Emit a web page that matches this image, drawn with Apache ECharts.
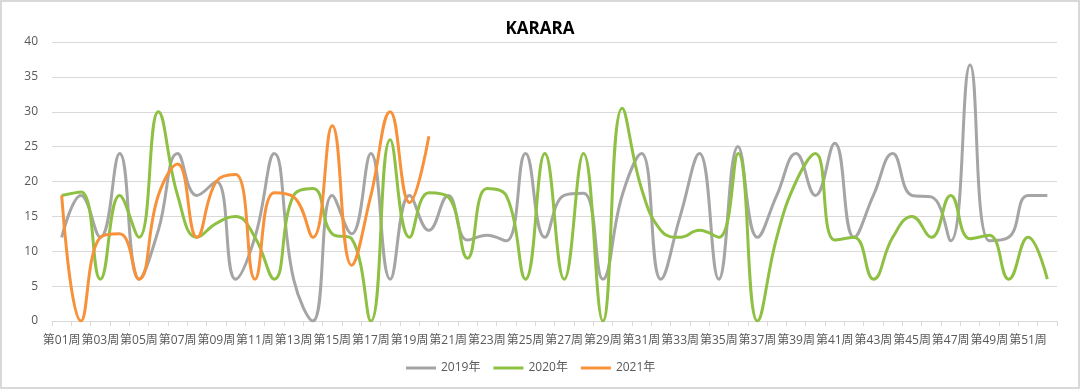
<!DOCTYPE html>
<html>
<head>
<meta charset="utf-8">
<script src="https://cdn.jsdelivr.net/npm/echarts@6/dist/echarts.min.js"></script>
<style>
html,body{margin:0;padding:0;background:#fff;}
#wrap{position:absolute;left:0;top:0;width:1076px;height:385px;border:2px solid #d9d9d9;}
#chart{position:absolute;left:0;top:0;width:1080px;height:389px;}
</style>
</head>
<body>
<div id="wrap"></div>
<div id="chart"></div>
<script>
const categories = [];
for (let i = 1; i <= 52; i++) categories.push('第' + String(i).padStart(2, '0') + '周');

const title = 'KARARA';
const seriesNames = ['2019年', '2020年', '2021年'];

const values2019 = [12, 18, 12, 24, 6, 13, 24, 18, 20, 6, 12, 24, 6, 0, 18, 12.5, 24, 6, 18, 13,
  18, 11.6, 12.3, 11.5, 24, 12, 18, 18.3, 6, 18, 24, 6, 15, 24, 6, 25, 12, 18, 24, 18,
  25.5, 12, 18, 24, 18, 17.8, 11.5, 36.7, 11.5, 12, 18, 18];
const values2020 = [18, 18.5, 6, 18, 12, 30, 18, 12, 14, 15, 12, 6, 18, 19, 12.5, 11.8, 0, 26, 12, 18.4,
  17.8, 9, 19, 18, 6, 24, 6, 24, 0, 30.5, 19, 13, 12, 13, 12, 24, 0, 12, 20, 24,
  11.6, 12, 6, 12, 15, 12, 18, 11.8, 12.3, 6, 12, 6];
const values2021 = [18, 0, 12, 12.5, 6, 18, 22.5, 12, 20, 21, 6, 18.4, 17.8, 12, 28, 8, 18, 30, 17, 26.5];

const yTicks = { min: 0, max: 40, interval: 5 };
const colors = ['#A5A5A5', '#8EC044', '#F7923A'];

const chart = echarts.init(document.getElementById('chart'), null, { renderer: 'canvas' });
const fontFam = '"Open Sans", "Noto Sans CJK SC", sans-serif';
const lineSeries = [values2019, values2020, values2021].map((d, i) => ({
  name: seriesNames[i],
  type: 'line',
  data: d,
  smooth: 0.45,
  symbol: 'none',
  lineStyle: { width: 3, color: colors[i] },
  itemStyle: { color: colors[i] },
  z: 2 + i
}));

chart.setOption({
  animation: false,
  title: {
    text: title,
    left: 'center',
    top: 16,
    textStyle: { fontFamily: fontFam, fontWeight: 'bold', fontSize: 17, color: '#000' }
  },
  legend: {
    top: 357,
    left: 401,
    itemWidth: 30,
    itemHeight: 3,
    itemGap: 13,
    icon: 'rect',
    textStyle: { fontFamily: fontFam, fontSize: 12, color: '#595959' },
    data: seriesNames
  },
  grid: { left: 52, right: 23, top: 42, bottom: 68, containLabel: false },
  xAxis: {
    type: 'category',
    data: categories,
    boundaryGap: true,
    axisLine: { lineStyle: { color: '#d9d9d9', width: 1 } },
    axisTick: { show: true, alignWithLabel: false, interval: 0, length: 5, lineStyle: { color: '#d9d9d9' } },
    axisLabel: { interval: 1, fontFamily: fontFam, fontSize: 12, color: '#595959', margin: 14 },
    splitLine: { show: false }
  },
  yAxis: {
    type: 'value',
    min: yTicks.min,
    max: yTicks.max,
    interval: yTicks.interval,
    axisLine: { show: false },
    axisTick: { show: false },
    axisLabel: { fontFamily: fontFam, fontSize: 12, color: '#595959', margin: 14 },
    splitLine: { lineStyle: { color: '#d9d9d9', width: 1 } }
  },
  series: lineSeries
});
</script>
</body>
</html>
